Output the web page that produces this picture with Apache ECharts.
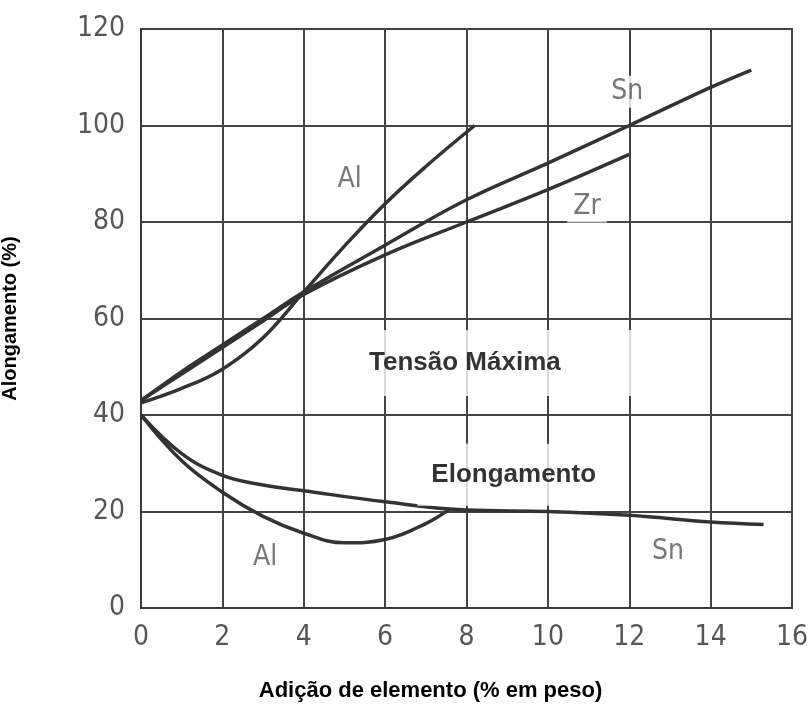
<!DOCTYPE html>
<html>
<head>
<meta charset="utf-8">
<script src="https://cdn.jsdelivr.net/npm/echarts@6/dist/echarts.min.js"></script>
<style>
  html, body { margin: 0; padding: 0; background: #ffffff; }
  #chart { width: 808px; height: 708px; }
</style>
</head>
<body>
<div id="chart"></div>
<script>
// eixos
var xTicks = [0, 2, 4, 6, 8, 10, 12, 14, 16];
var yTicks = [0, 20, 40, 60, 80, 100, 120];

// Tensão Máxima
var tensaoAlX = [0, 1, 2, 3, 4, 5, 6, 7, 8.2];
var tensaoAlY = [42.5, 45.5, 49.5, 56, 65.5, 75, 83.8, 91.5, 100];
var tensaoSnX = [0, 1, 2, 3, 4, 6, 8, 10, 12, 14, 15];
var tensaoSnY = [43, 49, 54.5, 60, 65.5, 75.2, 84.6, 92.2, 100, 107.9, 111.5];
var tensaoZrX = [0, 1, 2, 3, 4, 6, 8, 10, 12];
var tensaoZrY = [43, 48.5, 54, 59.5, 65, 73.2, 80, 86.7, 94];

// Elongamento
var elongSnX = [0, 1, 2, 3, 4, 6, 8, 10, 12, 14, 15.3];
var elongSnY = [40, 32, 27.5, 25.5, 24.3, 22, 20.3, 20, 19.2, 17.8, 17.3];
var elongAlX = [0, 1, 2, 3, 4, 5, 6, 7, 7.6];
var elongAlY = [40, 30.5, 24, 19, 15.5, 13.5, 14.2, 17.5, 20.6];

// rótulos das curvas
var curveNames = ['Al', 'Sn', 'Zr', 'Al', 'Sn'];
var curveLabelX = [5.13, 11.95, 10.96, 3.05, 12.95];
var curveLabelY = [88.8, 107, 83.2, 10.4, 11.6];

// títulos dentro do gráfico
var blockNames = ['Tensão Máxima', 'Elongamento'];
var blockX = [7.96, 9.16];
var blockY = [50.8, 27.6];

function pairs(xs, ys) {
  return xs.map(function (x, i) { return [x, ys[i]]; });
}

function curve(name, xs, ys) {
  return {
    name: name,
    type: 'line',
    data: pairs(xs, ys),
    smooth: 0.4,
    symbol: 'none',
    z: 3,
    lineStyle: { color: '#333333', width: 3.5 }
  };
}

var narrowFont = "'Liberation Sans Narrow', 'Arial Narrow', 'DejaVu Sans Condensed', sans-serif";
var boldFont = "'Liberation Sans', Arial, sans-serif";

var chart = echarts.init(document.getElementById('chart'));
chart.setOption({
  animation: false,
  backgroundColor: '#ffffff',
  grid: {
    left: 141,
    right: 16,
    top: 29,
    bottom: 100,
    containLabel: false,
    outerBoundsMode: 'none',
    show: true,
    borderColor: '#3a3a3a',
    borderWidth: 2
  },
  xAxis: {
    type: 'value',
    min: xTicks[0],
    max: xTicks[xTicks.length - 1],
    interval: 2,
    name: 'Adição de elemento (% em peso)',
    nameLocation: 'middle',
    nameGap: 72,
    nameTextStyle: {
      fontFamily: boldFont,
      fontWeight: 'bold',
      fontSize: 22,
      color: '#000000',
      padding: [0, 72, 0, 0]
    },
    axisLine: { show: true, lineStyle: { color: '#3a3a3a', width: 2 } },
    axisTick: { show: false },
    axisLabel: {
      margin: 16,
      fontFamily: narrowFont,
      fontSize: 28,
      color: '#555555'
    },
    splitLine: { show: true, lineStyle: { color: '#444444', width: 2 } }
  },
  yAxis: {
    type: 'value',
    min: yTicks[0],
    max: yTicks[yTicks.length - 1],
    interval: 20,
    name: 'Alongamento (%)',
    nameLocation: 'middle',
    nameGap: 121,
    nameTextStyle: {
      fontFamily: boldFont,
      fontWeight: 'bold',
      fontSize: 20,
      color: '#000000'
    },
    axisLine: { show: true, lineStyle: { color: '#3a3a3a', width: 2 } },
    axisTick: { show: false },
    axisLabel: {
      margin: 16,
      fontFamily: narrowFont,
      fontSize: 28,
      color: '#555555'
    },
    splitLine: { show: true, lineStyle: { color: '#444444', width: 2 } }
  },
  series: [
    curve('Tensão Al', tensaoAlX, tensaoAlY),
    curve('Tensão Sn', tensaoSnX, tensaoSnY),
    curve('Tensão Zr', tensaoZrX, tensaoZrY),
    curve('Elong Sn', elongSnX, elongSnY),
    curve('Elong Al', elongAlX, elongAlY),
    {
      type: 'scatter',
      symbolSize: 0,
      z: 4,
      data: curveNames.map(function (n, i) {
        return { name: n, value: [curveLabelX[i], curveLabelY[i]] };
      }),
      label: {
        show: true,
        position: 'inside',
        formatter: '{b}',
        fontFamily: narrowFont,
        fontSize: 28,
        color: '#555555',
        backgroundColor: '#ffffff',
        padding: [2, 6]
      }
    },
    {
      // caixa branca larga atrás de "Tensão Máxima" (mais larga à direita)
      type: 'scatter',
      symbolSize: 0,
      z: 4,
      data: [{ name: blockNames[0], value: [blockX[0], blockY[0]] }],
      label: {
        show: true,
        position: 'inside',
        formatter: '{b}',
        fontFamily: boldFont,
        fontWeight: 'bold',
        fontSize: 26,
        color: '#000000',
        backgroundColor: '#ffffff',
        padding: [20, 76, 20, 40],
        offset: [18, 0]
      }
    },
    {
      type: 'scatter',
      symbolSize: 0,
      z: 4,
      data: [{ name: blockNames[1], value: [blockX[1], blockY[1]] }],
      label: {
        show: true,
        position: 'inside',
        formatter: '{b}',
        fontFamily: boldFont,
        fontWeight: 'bold',
        fontSize: 26,
        color: '#000000',
        backgroundColor: '#ffffff',
        padding: [18, 14]
      }
    }
  ]
});
</script>
</body>
</html>
